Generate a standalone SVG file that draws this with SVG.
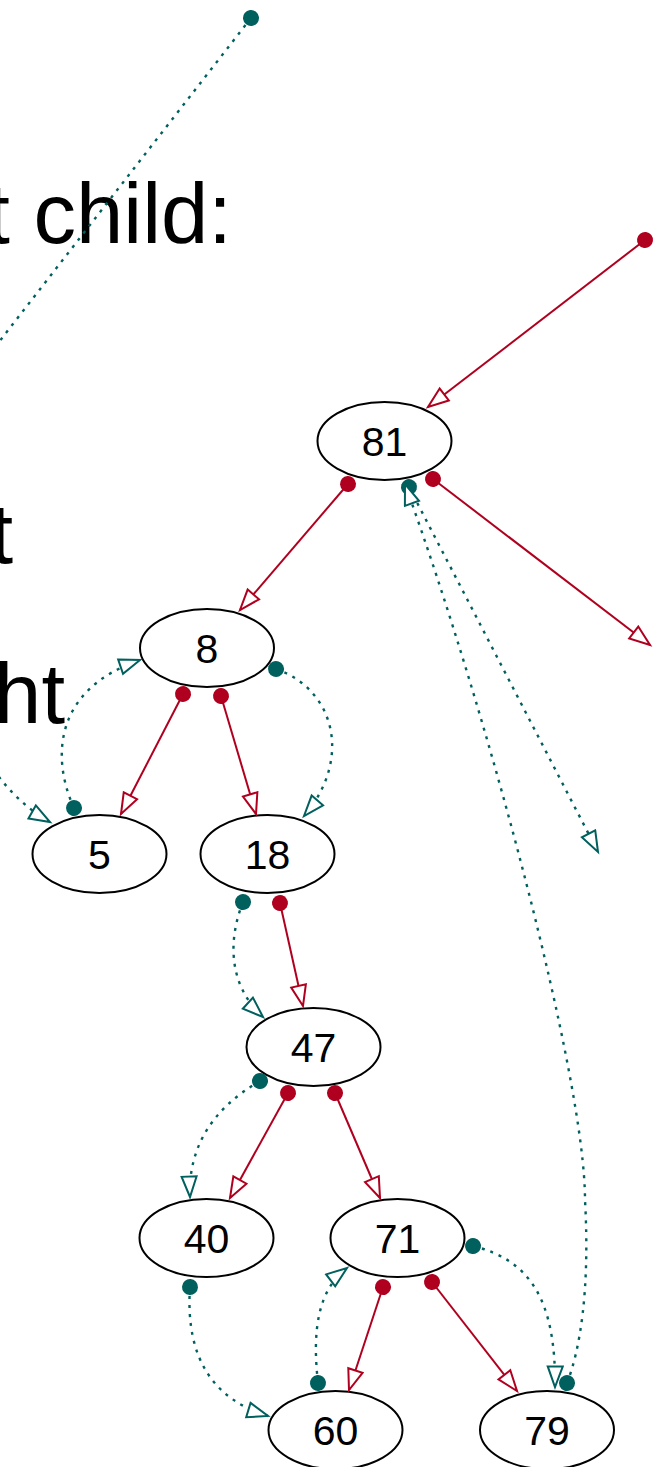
<svg xmlns="http://www.w3.org/2000/svg" width="657" height="1467" viewBox="0 0 657 1467">
  <style>
    .node ellipse { fill: #ffffff; stroke: #000000; stroke-width: 2; }
    .node text { font-family: "Liberation Sans", Arial, sans-serif; font-size: 41px; text-anchor: middle; fill: #000000; }
    .caption { font-family: "Liberation Sans", Arial, sans-serif; font-size: 85px; fill: #000000; text-anchor: end; }
    .child { fill: none; stroke: #b0001f; stroke-width: 2; marker-start: url(#dotRed); marker-end: url(#arrowRed); }
    .thread { fill: none; stroke: #00605e; stroke-width: 2.4; stroke-dasharray: 3 6; marker-start: url(#dotTeal); marker-end: url(#arrowTeal); }
  </style>
  <defs>
    <marker id="dotRed" markerUnits="userSpaceOnUse" markerWidth="18" markerHeight="18" refX="9" refY="9" orient="auto">
      <circle cx="9" cy="9" r="8" fill="#b0001f"/>
    </marker>
    <marker id="dotTeal" markerUnits="userSpaceOnUse" markerWidth="18" markerHeight="18" refX="9" refY="9" orient="auto">
      <circle cx="9" cy="9" r="8" fill="#00605e"/>
    </marker>
    <marker id="arrowRed" markerUnits="userSpaceOnUse" markerWidth="26" markerHeight="20" refX="22" refY="9" orient="auto">
      <path d="M1.5,1.5 L22,9 L1.5,16.5 Z" fill="#ffffff" stroke="#b0001f" stroke-width="2" stroke-linejoin="miter"/>
    </marker>
    <marker id="arrowTeal" markerUnits="userSpaceOnUse" markerWidth="26" markerHeight="20" refX="22" refY="9" orient="auto">
      <path d="M1.5,1.5 L22,9 L1.5,16.5 Z" fill="#ffffff" stroke="#00605e" stroke-width="2" stroke-linejoin="miter"/>
    </marker>
  </defs>

  <!-- caption lines running in from the left edge -->
  <g id="caption">
    <text class="caption" x="232" y="243">t child:</text>
    <text class="caption" x="13" y="563">t</text>
    <text class="caption" x="65" y="723">ht</text>
  </g>

  <!-- tree nodes -->
  <g id="n81" class="node"><ellipse cx="384.5" cy="441" rx="67" ry="39"/><text x="384.5" y="455.5">81</text></g>
  <g id="n8" class="node"><ellipse cx="207" cy="648" rx="67" ry="39"/><text x="207" y="662.5">8</text></g>
  <g id="n5" class="node"><ellipse cx="99.5" cy="854" rx="67" ry="39"/><text x="99.5" y="868.5">5</text></g>
  <g id="n18" class="node"><ellipse cx="267.5" cy="854" rx="67" ry="39"/><text x="267.5" y="868.5">18</text></g>
  <g id="n47" class="node"><ellipse cx="313.5" cy="1047" rx="67" ry="39"/><text x="313.5" y="1061.5">47</text></g>
  <g id="n40" class="node"><ellipse cx="206.5" cy="1238" rx="67" ry="39"/><text x="206.5" y="1252.5">40</text></g>
  <g id="n71" class="node"><ellipse cx="397.5" cy="1238" rx="67" ry="39"/><text x="397.5" y="1252.5">71</text></g>
  <g id="n60" class="node"><ellipse cx="335.5" cy="1430" rx="67" ry="39"/><text x="335.5" y="1444.5">60</text></g>
  <g id="n79" class="node"><ellipse cx="547" cy="1430" rx="67" ry="39"/><text x="547" y="1444.5">79</text></g>

  <!-- connectors: child links (solid) and threads (dotted) -->
  <g id="connectors">
    <path class="child" d="M645,240 L428,407"/>
    <path class="child" d="M348,484 L240,610"/>
    <path class="child" d="M433,479 L650,645"/>
    <path class="child" d="M183,694 L121,814"/>
    <path class="child" d="M221,696 L256,814"/>
    <path class="child" d="M280,903 L303,1006"/>
    <path class="child" d="M288,1093 L230,1198"/>
    <path class="child" d="M335,1093 L380,1198"/>
    <path class="child" d="M383,1287 L349,1390"/>
    <path class="child" d="M432,1282 L517,1391"/>

    <path class="thread" d="M251,18 L-40,392 C-90,560 -60,760 50,822"/>
    <path class="thread" d="M74,808 C52,760 52,690 140,660"/>
    <path class="thread" d="M276,669 C336,690 352,760 304,816"/>
    <path class="thread" d="M409,487 L598,852"/>
    <path class="thread" d="M567,1383 C580,1350 590,1290 585,1200 C585,1080 490,720 405,484"/>
    <path class="thread" d="M243,902 C228,940 228,985 263,1017"/>
    <path class="thread" d="M260,1081 C210,1110 188,1150 190,1197"/>
    <path class="thread" d="M190,1287 C185,1360 215,1400 268,1416"/>
    <path class="thread" d="M318,1383 C312,1330 318,1290 347,1268"/>
    <path class="thread" d="M473,1246 C530,1260 556,1300 555,1387"/>
  </g>
</svg>
